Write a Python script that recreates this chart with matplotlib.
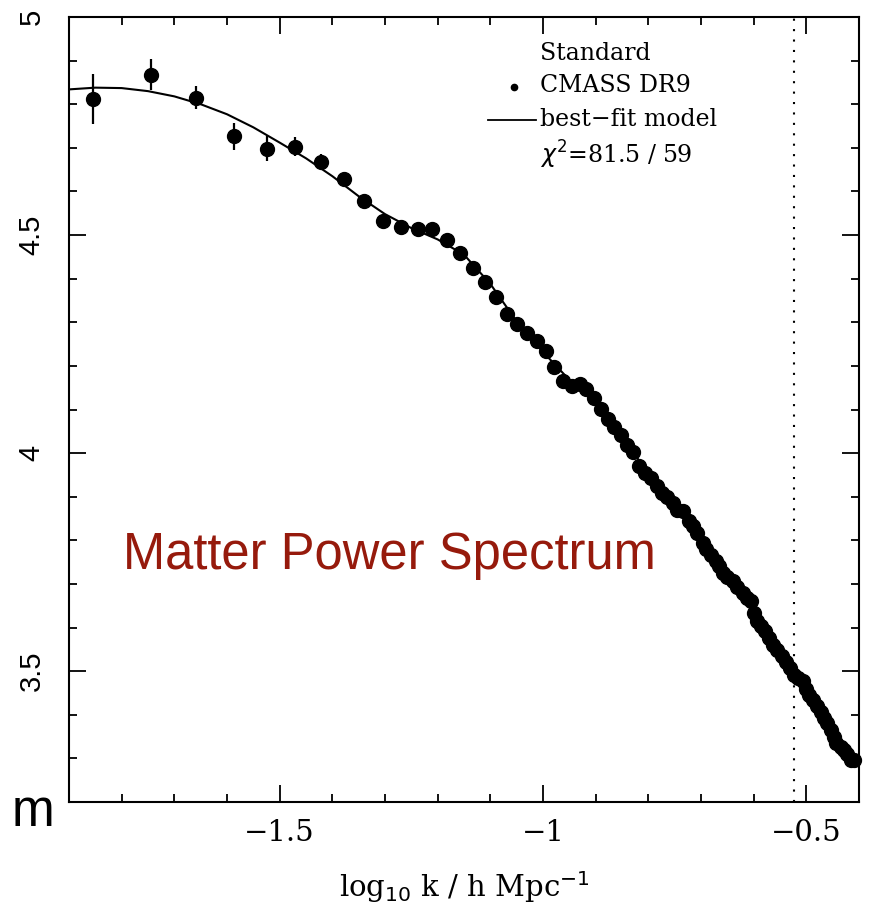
import numpy as np
import matplotlib
matplotlib.use('Agg')
import matplotlib.pyplot as plt
from matplotlib.ticker import MultipleLocator, FixedLocator, FixedFormatter

# CMASS DR9 power spectrum points: log10 k, log10 P, error
logk = [-1.854, -1.745, -1.658, -1.586, -1.525, -1.470, -1.422, -1.378, -1.339,
        -1.303, -1.270, -1.238, -1.210, -1.183, -1.158, -1.133, -1.111, -1.089,
        -1.069, -1.049, -1.030, -1.012, -0.995, -0.979, -0.962, -0.945, -0.930,
        -0.918, -0.903, -0.890, -0.876, -0.865, -0.852, -0.840, -0.829, -0.817,
        -0.806, -0.795, -0.784, -0.774, -0.765, -0.754, -0.745, -0.734, -0.722,
        -0.715, -0.707, -0.697, -0.690, -0.681, -0.672, -0.665, -0.659, -0.650,
        -0.640, -0.631, -0.621, -0.612, -0.605, -0.600, -0.593, -0.586, -0.578,
        -0.570, -0.563, -0.555, -0.546, -0.539, -0.531, -0.523, -0.515, -0.507,
        -0.501, -0.494, -0.487, -0.479, -0.472, -0.466, -0.460, -0.453, -0.447,
        -0.444, -0.434, -0.428, -0.422, -0.415, -0.409]
logP = [4.812, 4.868, 4.815, 4.726, 4.698, 4.703, 4.667, 4.629, 4.578,
        4.533, 4.518, 4.515, 4.513, 4.488, 4.459, 4.425, 4.393, 4.357,
        4.319, 4.297, 4.276, 4.257, 4.233, 4.198, 4.165, 4.153, 4.159,
        4.146, 4.127, 4.101, 4.078, 4.061, 4.042, 4.019, 4.002, 3.971,
        3.955, 3.943, 3.924, 3.909, 3.900, 3.886, 3.870, 3.867, 3.844,
        3.832, 3.817, 3.794, 3.780, 3.767, 3.752, 3.740, 3.725, 3.716,
        3.706, 3.693, 3.679, 3.668, 3.660, 3.633, 3.614, 3.603, 3.591,
        3.576, 3.561, 3.548, 3.534, 3.522, 3.507, 3.492, 3.484, 3.477,
        3.458, 3.446, 3.433, 3.419, 3.406, 3.393, 3.380, 3.366, 3.350,
        3.335, 3.327, 3.320, 3.309, 3.297, 3.297]
err = [0.058, 0.036, 0.027, 0.031, 0.028, 0.022, 0.018, 0.016, 0.012,
       0.012, 0.010, 0.010, 0.009, 0.009, 0.008, 0.008] + [0.006] * 71

# best-fit model curve
model_k = [-1.90, -1.85, -1.80, -1.75, -1.70, -1.65, -1.60, -1.55, -1.50, -1.45,
           -1.40, -1.35, -1.30, -1.25, -1.20, -1.15, -1.10, -1.05, -1.00, -0.95,
           -0.90, -0.85, -0.80, -0.75, -0.70, -0.65, -0.60, -0.55, -0.50, -0.45,
           -0.40]
model_P = [4.834, 4.838, 4.837, 4.830, 4.818, 4.800, 4.777, 4.747, 4.712, 4.676,
           4.635, 4.589, 4.548, 4.516, 4.490, 4.455, 4.388, 4.302, 4.232, 4.168,
           4.118, 4.040, 3.952, 3.880, 3.800, 3.718, 3.637, 3.543, 3.457, 3.362,
           3.290]

k_cut = np.log10(0.3)

fig = plt.figure(figsize=(8.7, 9.05), dpi=100)
ax = fig.add_axes([69/870, 1 - 802/905, 790/870, 785/905])

ax.plot(model_k, model_P, '-', color='black', lw=1.5)
ax.errorbar(logk, logP, yerr=err, fmt='o', color='black', ms=10,
            elinewidth=1.6, capsize=0, clip_on=False, zorder=3)
ax.axvline(k_cut, color='black', ls=(0, (1, 4)), lw=1.5)

ax.set_xlim(-1.9, -0.4)
ax.set_ylim(3.2, 5.0)

ax.xaxis.set_major_locator(FixedLocator([-1.5, -1.0, -0.5]))
ax.xaxis.set_major_formatter(FixedFormatter(['\u22121.5', '\u22121', '\u22120.5']))
ax.xaxis.set_minor_locator(MultipleLocator(0.1))
ax.yaxis.set_major_locator(FixedLocator([3.5, 4.0, 4.5, 5.0]))
ax.yaxis.set_major_formatter(FixedFormatter(['3.5', '4', '4.5', '5']))
ax.yaxis.set_minor_locator(MultipleLocator(0.1))

ax.tick_params(which='both', direction='in', top=True, right=True, width=1.3)
ax.tick_params(which='major', length=12)
ax.tick_params(which='minor', length=6)
ax.tick_params(axis='x', pad=12, labelsize=21)
ax.tick_params(axis='y', pad=17, labelsize=21, labelrotation=90)
for lab in ax.get_xticklabels():
    lab.set_family('DejaVu Serif')
for lab in ax.get_yticklabels():
    lab.set_family('Liberation Sans')
    lab.set_va('center')
for s in ax.spines.values():
    s.set_linewidth(1.5)

ax.set_xlabel('log$_{10}$ k / h Mpc$^{-1}$', family='DejaVu Serif', fontsize=21,
              labelpad=16)

# legend block
lx = 540
fs = 17
fig.text(lx/870, 1 - 54/905, 'Standard', family='DejaVu Serif', fontsize=fs, va='center')
fig.text(lx/870, 1 - 86/905, 'CMASS DR9', family='DejaVu Serif', fontsize=fs, va='center')
fig.text(lx/870, 1 - 120/905, 'best\u2212fit model', family='DejaVu Serif', fontsize=fs, va='center')
fig.text(lx/870, 1 - 155/905, '$\\chi^2$=81.5 / 59', family='DejaVu Serif', fontsize=fs, va='center')
fig.lines.append(plt.Line2D([514/870], [1 - 87/905], marker='o', ms=4.5, color='black',
                            transform=fig.transFigure))
fig.lines.append(plt.Line2D([488/870, 536/870], [1 - 120/905, 1 - 120/905], lw=1.3,
                            color='black', transform=fig.transFigure))

fig.text(123/870, 1 - 556/905, 'Matter Power Spectrum', family='Liberation Sans',
         fontsize=36.5, color='#961a0c', va='center')
fig.text(12/870, 1 - 812/905, 'm', family='Liberation Sans', fontsize=37,
         color='black', va='center')

fig.savefig('out.png', dpi=100)
